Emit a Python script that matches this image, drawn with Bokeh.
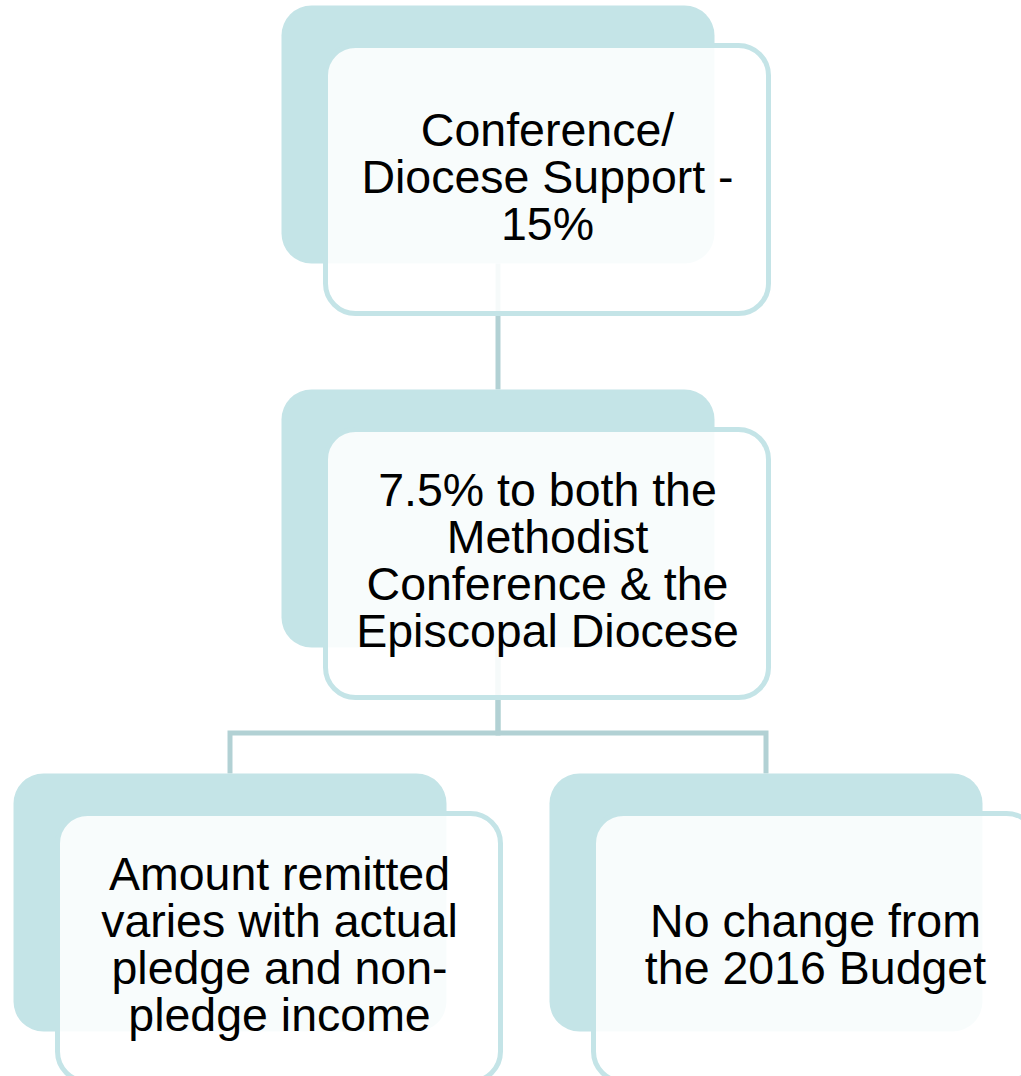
from bokeh.plotting import figure
from bokeh.models import Range1d
from bokeh.embed import file_html
from bokeh.resources import INLINE
from bokeh.core.properties import value

# ---- content ----
node_labels = [
    ["Conference/", "Diocese Support -", "15%"],
    ["7.5% to both the", "Methodist", "Conference & the", "Episcopal Diocese"],
    ["Amount remitted", "varies with actual", "pledge and non-", "pledge income"],
    ["No change from", "the 2016 Budget"],
]
node_parent = [None, 0, 1, 1]

# ---- layout (screen-pixel coordinates of the page) ----
back_left = [281, 281, 13, 549]
back_top = [5, 389, 773, 773]
box_w_back, box_h_back = 433, 258
front_dx, front_dy = 44, 40
box_w_front, box_h_front = 443, 268
line_spacing = 47
font_px = 46.5

BACK = "#c4e4e7"
BORDER = "#c4e4e7"
CONN = "#b2d1d4"

W, H = 1021, 1076
p = figure(width=W, height=H, output_backend="svg", toolbar_location=None,
           x_range=Range1d(0, W), y_range=Range1d(H, 0),
           min_border=0, outline_line_color=None)
p.axis.visible = False
p.grid.visible = False
p.background_fill_color = "white"
p.border_fill_color = "white"

# connectors (drawn first, visible faintly through front boxes)
for i, par in enumerate(node_parent):
    if par is None:
        continue
    px = back_left[par] + box_w_back / 2
    cx = back_left[i] + box_w_back / 2
    pbottom = back_top[par] + box_h_back
    ctop = back_top[i]
    if abs(px - cx) < 2:
        p.line([px, px], [pbottom, ctop], line_color=CONN, line_width=5)
    else:
        mid = (back_top[par] + front_dy + box_h_front + ctop) / 2 - 2.5
        p.line([px, px, cx, cx], [pbottom, mid, mid, ctop], line_color=CONN,
               line_width=5, line_join="miter")

# back boxes
bl = back_left
br = [x + box_w_back for x in back_left]
bt = back_top
bb = [y + box_h_back for y in back_top]
p.quad(left=bl, right=br, top=bt, bottom=bb, fill_color=BACK, line_color=None,
       border_radius=30)

# front boxes
fl = [x + front_dx for x in back_left]
fr = [x + box_w_front for x in fl]
ft = [y + front_dy for y in back_top]
fb = [y + box_h_front for y in ft]
p.quad(left=fl, right=fr, top=ft, bottom=fb, fill_color="white", fill_alpha=0.88,
       line_color=BORDER, line_width=5, border_radius=30)

# texts
xs, ys, ts = [], [], []
for i, lines in enumerate(node_labels):
    cx = (fl[i] + fr[i]) / 2 + 0.5
    cy = (ft[i] + fb[i]) / 2
    n = len(lines)
    for k, t in enumerate(lines):
        xs.append(cx)
        ys.append(cy + (k - (n - 1) / 2) * line_spacing - 3)
        ts.append(t)
p.text(x=xs, y=ys, text=ts, text_align="center", text_baseline="alphabetic",
       text_font=value("Liberation Sans"), text_font_size=f"{font_px}px",
       text_color="black")

open("out.html", "w").write(file_html(p, INLINE))
